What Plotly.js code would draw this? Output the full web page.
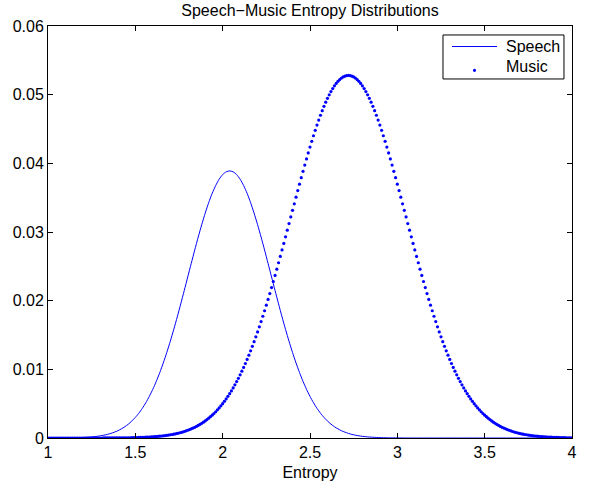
<!DOCTYPE html>
<html>
<head>
<meta charset="utf-8">
<script src="https://cdn.plot.ly/plotly-3.0.1.min.js"></script>
<style>html,body{margin:0;padding:0;background:#fff;}#chart{width:596px;height:485px;}</style>
</head>
<body>
<div id="chart"></div>
<script>
// Speech: sampled at x = 1.00, 1.02, ..., 4.00
const speechX0 = 1.0;
const speechDx = 0.02;
const speechY = [
0,0,0,0.00001,0.00001,0.00002,0.00002,0.00003,0.00004,0.00006,
0.00008,0.00011,0.00014,0.00019,0.00024,0.00032,0.00041,0.00052,0.00067,0.00085,
0.00106,0.00133,0.00164,0.00202,0.00247,0.00300,0.00361,0.00432,0.00513,0.00606,
0.00709,0.00825,0.00953,0.01093,0.01245,0.01408,0.01581,0.01763,0.01953,0.02147,
0.02345,0.02542,0.02737,0.02926,0.03106,0.03274,0.03428,0.03563,0.03677,0.03769,
0.03836,0.03876,
0.03890,
0.03876,0.03836,0.03769,0.03677,0.03563,0.03428,0.03274,0.03106,0.02926,0.02737,
0.02542,0.02345,0.02147,0.01953,0.01763,0.01581,0.01408,0.01245,0.01093,0.00953,
0.00825,0.00709,0.00606,0.00513,0.00432,0.00361,0.00300,0.00247,0.00202,0.00164,
0.00133,0.00106,0.00085,0.00067,0.00052,0.00041,0.00032,0.00024,0.00019,0.00014,
0.00011,0.00008,0.00006,0.00004,0.00003,0.00002,0.00002,0.00001,0.00001,
0,0,0,0,0,0,0,0,0,0,0,0,0,0,0,0,0,0,0,0,0,0,0,0,0,
0,0,0,0,0,0,0,0,0,0,0,0,0,0,0,0,0,0,0,0,0,0,0,0
];

// Music: sampled at x = 1.00, 1.01, ..., 4.00
const musicX0 = 1.0;
const musicDx = 0.01;
const musicY = [
0,0,0,0,0,0,0,0,0,0,0,0,0,0,0,0,0,0,0,0,0,0,0,0,0,0,0,0,0,0,0,0,
0.00001,0.00001,0.00001,0.00001,0.00001,0.00001,
0.00002,0.00002,0.00002,0.00002,0.00002,
0.00003,
0.00003,0.00003,0.00004,0.00004,0.00005,0.00005,0.00006,0.00007,0.00008,0.00008,
0.00009,0.00011,0.00012,0.00013,0.00014,0.00016,0.00018,0.00020,0.00022,0.00024,
0.00026,0.00029,0.00032,0.00035,0.00039,0.00043,0.00047,0.00051,0.00056,0.00061,
0.00067,0.00073,0.00080,0.00087,0.00095,0.00104,0.00113,0.00122,0.00133,0.00144,
0.00156,0.00169,0.00183,0.00198,0.00214,0.00231,0.00249,0.00268,0.00288,0.00310,
0.00332,0.00357,0.00382,0.00410,0.00438,0.00469,0.00500,0.00534,0.00569,0.00607,
0.00646,0.00686,0.00729,0.00774,0.00821,0.00869,0.00920,0.00973,0.01028,0.01085,
0.01144,0.01206,0.01269,0.01335,0.01403,0.01473,0.01545,0.01619,0.01695,0.01773,
0.01853,0.01935,0.02018,0.02103,0.02190,0.02279,0.02368,0.02459,0.02552,0.02645,
0.02739,0.02834,0.02930,0.03026,0.03122,0.03219,0.03315,0.03411,0.03507,0.03603,
0.03697,0.03791,0.03883,0.03974,0.04064,0.04152,0.04237,0.04321,0.04402,0.04481,
0.04557,0.04630,0.04700,0.04767,0.04830,0.04890,0.04946,0.04997,0.05045,0.05089,
0.05129,0.05164,0.05194,0.05220,0.05242,0.05258,0.05270,0.05278,
0.05280,
0.05278,0.05270,0.05258,0.05242,0.05220,0.05194,0.05164,0.05129,0.05089,0.05045,
0.04997,0.04946,0.04890,0.04830,0.04767,0.04700,0.04630,0.04557,0.04481,0.04402,
0.04321,0.04237,0.04152,0.04064,0.03974,0.03883,0.03791,0.03697,0.03603,0.03507,
0.03411,0.03315,0.03219,0.03122,0.03026,0.02930,0.02834,0.02739,0.02645,0.02552,
0.02459,0.02368,0.02279,0.02190,0.02103,0.02018,0.01935,0.01853,0.01773,0.01695,
0.01619,0.01545,0.01473,0.01403,0.01335,0.01269,0.01206,0.01144,0.01085,0.01028,
0.00973,0.00920,0.00869,0.00821,0.00774,0.00729,0.00686,0.00646,0.00607,0.00569,
0.00534,0.00500,0.00469,0.00438,0.00410,0.00382,0.00357,0.00332,0.00310,0.00288,
0.00268,0.00249,0.00231,0.00214,0.00198,0.00183,0.00169,0.00156,0.00144,0.00133,
0.00122,0.00113,0.00104,0.00095,0.00087,0.00080,0.00073,0.00067,0.00061,0.00056,
0.00051,0.00047,0.00043,0.00039,0.00035,0.00032,0.00029,0.00026,0.00024,0.00022,
0.00020,0.00018,0.00016,0.00014,0.00013,0.00012,0.00011,0.00009,0.00008,0.00008,
0.00007,0.00006,0.00005,0.00005,0.00004,0.00004,0.00003,0.00003
];

const seriesNames = ["Speech", "Music"];
const xTicks = [1, 1.5, 2, 2.5, 3, 3.5, 4];
const xTickText = ["1", "1.5", "2", "2.5", "3", "3.5", "4"];
const yTicks = [0, 0.01, 0.02, 0.03, 0.04, 0.05, 0.06];
const yTickText = ["0", "0.01", "0.02", "0.03", "0.04", "0.05", "0.06"];

const FONT = "Liberation Sans, Arial, Helvetica, sans-serif";
const FS = 16;
const BLUE = "#0000ff";

const traces = [
  {
    type: "scatter", mode: "lines", name: seriesNames[0],
    x0: speechX0, dx: speechDx, y: speechY,
    line: {color: BLUE, width: 1, shape: "spline", smoothing: 0.6}
  },
  {
    type: "scatter", mode: "markers", name: seriesNames[1],
    x0: musicX0, dx: musicDx, y: musicY,
    marker: {color: BLUE, size: 3.2, line: {width: 0}}
  }
];

const axisCommon = {
  showgrid: false, zeroline: false, showline: true, mirror: "ticks",
  linecolor: "#000", linewidth: 1, ticks: "inside", ticklen: 5,
  tickcolor: "#000", tickwidth: 1,
  tickfont: {family: FONT, size: FS, color: "#000"}
};

// MATLAB-style legend box (drawn in paper coordinates)
const legBox = {x0: 0.7538, x1: 0.9847, y0: 0.8714, y1: 0.9782};
const legRowY = [0.9502, 0.9005];
const legSampleX = [0.7710, 0.8569];
const legTextX = 0.8702;

const layout = {
  width: 596, height: 485,
  margin: {l: 48, r: 24, t: 26, b: 47, pad: 0},
  paper_bgcolor: "#fff", plot_bgcolor: "#fff",
  font: {family: FONT, color: "#000"},
  title: {
    text: "Speech\u2212Music Entropy Distributions",
    font: {family: FONT, size: FS, color: "#000"},
    xref: "paper", x: 0.5, xanchor: "center",
    yref: "container", y: 0.979, yanchor: "middle"
  },
  xaxis: Object.assign({}, axisCommon, {
    range: [1, 4], tickvals: xTicks, ticktext: xTickText,
    title: {text: "Entropy", font: {family: FONT, size: FS, color: "#000"}, standoff: 6}
  }),
  yaxis: Object.assign({}, axisCommon, {
    range: [0, 0.06], tickvals: yTicks, ticktext: yTickText
  }),
  showlegend: false,
  shapes: [
    {type: "rect", xref: "paper", yref: "paper", x0: legBox.x0, x1: legBox.x1, y0: legBox.y0, y1: legBox.y1,
     fillcolor: "#fff", line: {color: "#000", width: 1}, layer: "above"},
    {type: "line", xref: "paper", yref: "paper", x0: legSampleX[0], x1: legSampleX[1], y0: legRowY[0], y1: legRowY[0],
     line: {color: BLUE, width: 1}, layer: "above"},
    {type: "circle", xref: "paper", yref: "paper",
     xsizemode: "pixel", ysizemode: "pixel",
     xanchor: (legSampleX[0] + legSampleX[1]) / 2, yanchor: legRowY[1] - 0.008,
     x0: -1.6, x1: 1.6, y0: -1.6, y1: 1.6,
     fillcolor: BLUE, line: {width: 0}, layer: "above"}
  ],
  annotations: [
    {text: seriesNames[0], xref: "paper", yref: "paper", x: legTextX, y: legRowY[0],
     xanchor: "left", yanchor: "middle", showarrow: false, font: {family: FONT, size: FS, color: "#000"}},
    {text: seriesNames[1], xref: "paper", yref: "paper", x: legTextX, y: legRowY[1],
     xanchor: "left", yanchor: "middle", showarrow: false, font: {family: FONT, size: FS, color: "#000"}}
  ]
};

Plotly.newPlot("chart", traces, layout, {displayModeBar: false, staticPlot: true});
</script>
</body>
</html>
